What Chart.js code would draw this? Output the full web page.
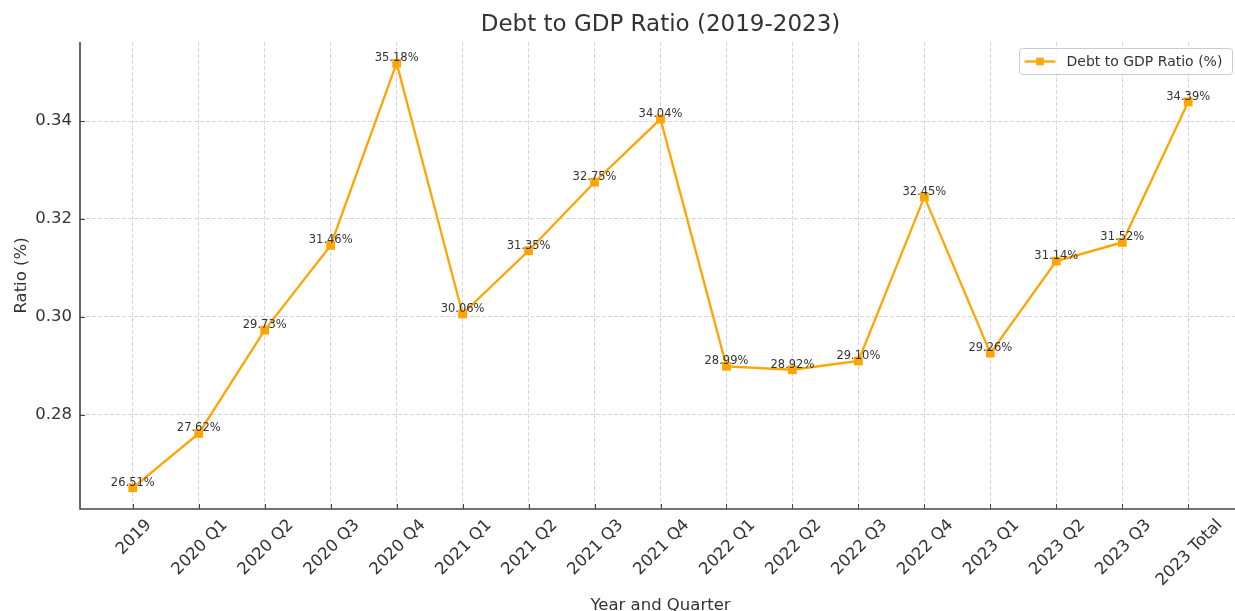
<!DOCTYPE html>
<html>
<head>
<meta charset="utf-8">
<title>Debt to GDP Ratio (2019-2023)</title>
<script src="https://cdn.jsdelivr.net/npm/chart.js@4.4.1/dist/chart.umd.min.js"></script>
<style>
  html, body { margin: 0; padding: 0; background: #fff; overflow: hidden; }
  canvas { display: block; }
</style>
</head>
<body>
<!-- canvas is a little wider than the window: the plot's right edge is cut off -->
<canvas id="debtChart" width="1241" height="611"></canvas>
<script>
// Debt to GDP ratio by period
const periods = ['2019', '2020 Q1', '2020 Q2', '2020 Q3', '2020 Q4', '2021 Q1', '2021 Q2',
  '2021 Q3', '2021 Q4', '2022 Q1', '2022 Q2', '2022 Q3', '2022 Q4', '2023 Q1', '2023 Q2',
  '2023 Q3', '2023 Total'];
const ratios = [0.2651, 0.2762, 0.2973, 0.3146, 0.3518, 0.3006, 0.3135, 0.3275, 0.3404,
  0.2899, 0.2892, 0.2910, 0.3245, 0.2926, 0.3114, 0.3152, 0.3439];
const yTicks = [0.28, 0.30, 0.32, 0.34];

const seriesName = 'Debt to GDP Ratio (%)';
const chartTitle = 'Debt to GDP Ratio (2019-2023)';
const xTitle = 'Year and Quarter';
const yTitle = 'Ratio (%)';

const FONT = "'DejaVu Sans', sans-serif";
const TEXT = '#333333';
const SPINE = '#444444';
const GRID = '#cccccc';
const ORANGE = '#ffa500';

// 5% breathing room around the data, both axes
const lo = Math.min(...ratios), hi = Math.max(...ratios);
const yPad = (hi - lo) * 0.05;
const xPad = (periods.length - 1) * 0.05;

const points = ratios.map((v, i) => ({ x: i, y: v }));

function drawSquare(ctx, x, y, s) {
  ctx.fillStyle = ORANGE;
  ctx.fillRect(x - s / 2, y - s / 2, s, s);
}

const decorations = {
  id: 'decorations',
  afterDatasetsDraw(chart) {
    const ctx = chart.ctx;
    const meta = chart.getDatasetMeta(0);
    ctx.save();
    ctx.font = '11.5px ' + FONT;
    ctx.fillStyle = TEXT;
    ctx.textAlign = 'center';
    ctx.textBaseline = 'alphabetic';
    meta.data.forEach((pt, i) => {
      ctx.fillText((ratios[i] * 100).toFixed(2) + '%', pt.x, pt.y - 2);
    });
    ctx.restore();
  },
  afterDraw(chart) {
    const ctx = chart.ctx;
    const area = chart.chartArea;
    const xs = chart.scales.x, ys = chart.scales.y;
    ctx.save();

    // spines (left + bottom only)
    ctx.strokeStyle = SPINE;
    ctx.lineWidth = 1.6;
    ctx.beginPath();
    ctx.moveTo(area.left, area.top);
    ctx.lineTo(area.left, area.bottom);
    ctx.lineTo(area.right, area.bottom);
    ctx.stroke();

    // inward tick marks
    ctx.lineWidth = 1;
    ctx.beginPath();
    yTicks.forEach(v => {
      const y = Math.round(ys.getPixelForValue(v)) + 0.5;
      ctx.moveTo(area.left, y);
      ctx.lineTo(area.left + 5, y);
    });
    periods.forEach((p, i) => {
      const x = Math.round(xs.getPixelForValue(i)) + 0.5;
      ctx.moveTo(x, area.bottom);
      ctx.lineTo(x, area.bottom - 5);
    });
    ctx.stroke();

    // rotated category labels, centred under each tick
    const fs = 16.5;
    ctx.font = fs + 'px ' + FONT;
    ctx.fillStyle = TEXT;
    ctx.textAlign = 'center';
    ctx.textBaseline = 'alphabetic';
    const capH = fs * 0.73;
    periods.forEach((p, i) => {
      const w = ctx.measureText(p).width;
      const boxH = (w + capH) * Math.SQRT1_2;
      const cx = xs.getPixelForValue(i);
      const cy = area.bottom + 8 + boxH / 2;
      ctx.save();
      ctx.translate(cx, cy);
      ctx.rotate(-Math.PI / 4);
      ctx.fillText(p, 0, capH / 2);
      ctx.restore();
    });

    // axis titles
    const midX = (area.left + area.right) / 2;
    ctx.textAlign = 'center';
    ctx.fillText(xTitle, midX, 610);
    ctx.save();
    ctx.translate(26, (area.top + area.bottom) / 2);
    ctx.rotate(-Math.PI / 2);
    ctx.fillText(yTitle, 0, 0);
    ctx.restore();

    // title
    ctx.font = '23px ' + FONT;
    ctx.fillText(chartTitle, midX, 31);

    // legend box
    const bx = 1019.5, by = 48.5, bw = 213, bh = 26;
    ctx.fillStyle = 'rgba(255,255,255,0.8)';
    ctx.strokeStyle = '#cccccc';
    ctx.lineWidth = 1;
    ctx.beginPath();
    ctx.roundRect(bx, by, bw, bh, 3);
    ctx.fill();
    ctx.stroke();
    const ly = by + bh / 2;
    ctx.strokeStyle = ORANGE;
    ctx.lineWidth = 2.3;
    ctx.beginPath();
    ctx.moveTo(bx + 5, ly);
    ctx.lineTo(bx + 36, ly);
    ctx.stroke();
    drawSquare(ctx, bx + 20.5, ly, 7.5);
    ctx.font = '14px ' + FONT;
    ctx.fillStyle = TEXT;
    ctx.textAlign = 'left';
    ctx.textBaseline = 'middle';
    ctx.fillText(seriesName, bx + 47, ly + 0.5);

    ctx.restore();
  }
};

new Chart(document.getElementById('debtChart'), {
  type: 'line',
  data: {
    datasets: [{
      label: seriesName,
      data: points,
      borderColor: ORANGE,
      backgroundColor: ORANGE,
      borderWidth: 2.3,
      pointStyle: 'rect',
      pointRadius: 6.2,
      pointBorderWidth: 0,
      pointBackgroundColor: ORANGE,
      tension: 0,
      fill: false
    }]
  },
  options: {
    responsive: false,
    animation: false,
    layout: { autoPadding: false, padding: { left: 0, top: 42, right: 0, bottom: 102 } },
    plugins: {
      legend: { display: false },
      title: { display: false },
      tooltip: { enabled: false }
    },
    scales: {
      x: {
        type: 'linear',
        min: -xPad,
        max: periods.length - 1 + xPad,
        afterBuildTicks: scale => { scale.ticks = periods.map((p, i) => ({ value: i })); },
        afterFit: scale => { scale.height = 0; },
        ticks: { display: false },
        border: { display: false, dash: [4, 2] },
        grid: { color: GRID, lineWidth: 0.8, drawTicks: false }
      },
      y: {
        type: 'linear',
        min: lo - yPad,
        max: hi + yPad,
        afterBuildTicks: scale => { scale.ticks = yTicks.map(v => ({ value: v })); },
        afterFit: scale => { scale.width = 80; },
        border: { display: false, dash: [4, 2] },
        ticks: {
          padding: 8,
          color: TEXT,
          font: { family: FONT, size: 16.5 },
          callback: v => v.toFixed(2)
        },
        grid: { color: GRID, lineWidth: 0.8, drawTicks: false }
      }
    }
  },
  plugins: [decorations]
});
</script>
</body>
</html>
